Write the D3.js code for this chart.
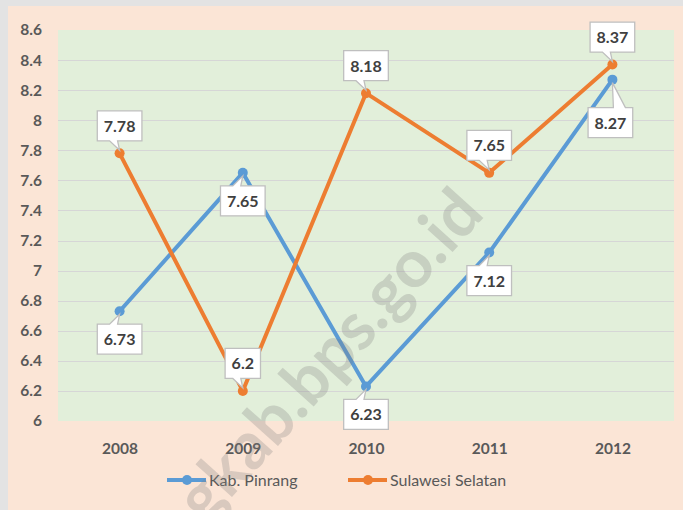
<!DOCTYPE html>
<html><head><meta charset="utf-8">
<script src="https://cdn.jsdelivr.net/npm/d3@7/dist/d3.min.js"></script>
<style>body{margin:0;background:#fff;} svg{display:block;}</style>
</head><body>
<script>
// ---- data ----
const years = ["2008", "2009", "2010", "2011", "2012"];
const pinrang = [6.73, 7.65, 6.23, 7.12, 8.27];
const sulsel = [7.78, 6.2, 8.18, 7.65, 8.37];
const seriesNames = ["Kab. Pinrang", "Sulawesi Selatan"];
const yTicks = [6, 6.2, 6.4, 6.6, 6.8, 7, 7.2, 7.4, 7.6, 7.8, 8, 8.2, 8.4, 8.6];
const watermarkText = "pinrangkab.bps.go.id";

// ---- layout ----
const W = 683, H = 510;
const plot = {x0: 58, x1: 674, y0: 30, y1: 421};
const colors = ["#5b9bd5", "#ed7d31"];
const font = "Lato, 'Open Sans', sans-serif";

const svg = d3.select("body").append("svg").attr("width", W).attr("height", H);

// outer frame
svg.append("rect").attr("x", 0).attr("y", 0).attr("width", W).attr("height", H).attr("fill", "#e3e3e3");
svg.append("rect").attr("x", 8).attr("y", 6).attr("width", W - 8).attr("height", H - 6).attr("fill", "#fbe5d6");
svg.append("rect").attr("x", plot.x0).attr("y", plot.y0).attr("width", plot.x1 - plot.x0).attr("height", plot.y1 - plot.y0).attr("fill", "#e2efda");

const x = d3.scalePoint().domain(years).range([plot.x0, plot.x1]).padding(0.5);
const y = d3.scaleLinear().domain([6, 8.6]).range([plot.y1, plot.y0]);

// gridlines
svg.append("g").selectAll("line").data(yTicks.filter(t => t > 6 && t < 8.6)).join("line")
  .attr("x1", plot.x0).attr("x2", plot.x1)
  .attr("y1", d => Math.round(y(d)) + 0.5).attr("y2", d => Math.round(y(d)) + 0.5)
  .attr("stroke", "#d6d6d6").attr("stroke-width", 1);

// y axis labels
const yAxis = d3.axisLeft(y).tickValues(yTicks).tickFormat(d => String(+d.toFixed(1))).tickSize(0).tickPadding(0);
const gy = svg.append("g").attr("transform", "translate(42,0)").call(yAxis);
gy.select(".domain").remove();
gy.selectAll("text").attr("font-family", font).attr("font-weight", 700).attr("font-size", 15.5).attr("fill", "#595959");

// x axis labels
const xAxis = d3.axisBottom(x).tickSize(0).tickPadding(0);
const gx = svg.append("g").attr("transform", "translate(0,443)").call(xAxis);
gx.select(".domain").remove();
gx.selectAll("text").attr("font-family", font).attr("font-weight", 700).attr("font-size", 15.5).attr("fill", "#595959");

// series
const series = [pinrang, sulsel];
const line = d3.line().x((d, i) => x(years[i])).y(d => y(d));
series.forEach((vals, s) => {
  svg.append("path").attr("d", line(vals)).attr("fill", "none")
    .attr("stroke", colors[s]).attr("stroke-width", 4).attr("stroke-linejoin", "round");
  svg.append("g").selectAll("circle").data(vals).join("circle")
    .attr("cx", (d, i) => x(years[i])).attr("cy", d => y(d)).attr("r", 5).attr("fill", colors[s]);
});

// callout labels: blue below, orange above
const labelG = svg.append("g");
function callout(val, i, s) {
  const px = x(years[i]), py = y(val);
  const below = s === 0;
  let dy = below ? 28 : -27.5;
  let cx = px, ptr = [-10, -2];
  if (s === 0 && i === 4) { dy = 43; cx = px - 2; ptr = [3, 15]; }
  const cy = py + dy;
  const g = labelG.append("g");
  const path = g.append("path");
  const t = g.append("text").text(String(val)).attr("x", cx).attr("y", cy + 6)
    .attr("text-anchor", "middle").attr("font-family", font).attr("font-weight", 700)
    .attr("font-size", 16).attr("fill", "#404040");
  const tw = t.node().getComputedTextLength();
  const w = tw + 13, h = 30;
  const x0 = cx - w / 2, x1 = cx + w / 2, y0 = cy - h / 2, y1 = cy + h / 2;
  const b1 = cx + ptr[0], b2 = cx + ptr[1];
  const tipY = below ? py + 3 : py - 3;
  let d;
  if (below) {
    d = `M${x0},${y0} H${b1} L${px},${tipY} L${b2},${y0} H${x1} V${y1} H${x0} Z`;
  } else {
    d = `M${x0},${y0} H${x1} V${y1} H${b2} L${px},${tipY} L${b1},${y1} H${x0} Z`;
  }
  path.attr("d", d).attr("fill", "#ffffff").attr("stroke", "#bfbfbf").attr("stroke-width", 1.3);
}
series.forEach((vals, s) => vals.forEach((v, i) => callout(v, i, s)));

// legend
const legendPos = [{lx: 167, tx: 209}, {lx: 348, tx: 390}];
seriesNames.forEach((name, s) => {
  const p = legendPos[s];
  const g = svg.append("g");
  g.append("line").attr("x1", p.lx).attr("x2", p.lx + 39).attr("y1", 480).attr("y2", 480)
    .attr("stroke", colors[s]).attr("stroke-width", 4);
  g.append("circle").attr("cx", p.lx + 20).attr("cy", 480).attr("r", 5).attr("fill", colors[s]);
  g.append("text").text(name).attr("x", p.tx).attr("y", 486)
    .attr("font-family", font).attr("font-size", 16).attr("fill", "#595959");
});

// watermark overlay (on top, semi-transparent)
svg.append("text").text(watermarkText)
  .attr("transform", "translate(486,215) rotate(-48)")
  .attr("text-anchor", "end")
  .attr("font-family", font).attr("font-weight", 700).attr("font-size", 66)
  .attr("fill", "#7f7f7f").attr("fill-opacity", 0.27);
</script>
</body></html>
